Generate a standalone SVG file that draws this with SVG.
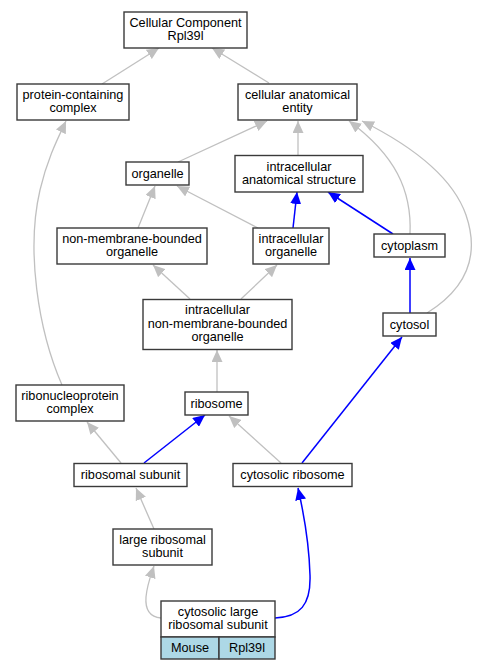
<svg xmlns="http://www.w3.org/2000/svg" width="478" height="669" viewBox="0 0 478 669">
<defs>
<marker id="ag" markerUnits="userSpaceOnUse" markerWidth="12" markerHeight="11" viewBox="0 0 12 11" refX="12" refY="5.5" orient="auto"><path d="M0,0 L12,5.5 L0,11 z" fill="#c0c0c0"/></marker>
<marker id="ab" markerUnits="userSpaceOnUse" markerWidth="12" markerHeight="11" viewBox="0 0 12 11" refX="12" refY="5.5" orient="auto"><path d="M0,0 L12,5.5 L0,11 z" fill="#0000ff"/></marker>
</defs>
<style>
.n rect{fill:#fff;stroke:#3a3a3a;stroke-width:1.4}
text{font-family:"Liberation Sans",Arial,sans-serif;font-size:12.7px;fill:#000;text-anchor:middle}
.g{fill:none;stroke:#c0c0c0;stroke-width:1.3;marker-end:url(#ag)}
.b{fill:none;stroke:#0000ff;stroke-width:1.5;marker-end:url(#ab)}
</style>
<rect width="478" height="669" fill="#fff"/>
<g id="edges">
<path class="g" d="M102,84 L159,48"/>
<path class="g" d="M269,83 L212,48"/>
<path class="g" d="M178,162 L267,121"/>
<path class="g" d="M298,155 L298,121"/>
<path class="g" d="M410,234 C412,190 395,155 349,121"/>
<path class="g" d="M427,313 C472,285 478,250 466,215 C452,175 410,145 362,121"/>
<path class="b" d="M293,228 L297,192"/>
<path class="b" d="M393,234 L328,192"/>
<path class="g" d="M138,228 L155,186"/>
<path class="g" d="M258,228 L177,186"/>
<path class="g" d="M190,299 L153,265"/>
<path class="g" d="M241,299 L277,265"/>
<path class="b" d="M410,313 L410,258"/>
<path class="g" d="M217,392 L217,350"/>
<path class="g" d="M62,385 C38,330 26,250 40,190 C47,160 57,140 66,121"/>
<path class="g" d="M121,463 L87,422"/>
<path class="b" d="M144,463 L205,415"/>
<path class="g" d="M281,463 L229,416"/>
<path class="b" d="M302,463 L402,337"/>
<path class="g" d="M154,529 L136,488"/>
<path class="g" d="M161,618 C150,617 145,610 146,597 C147,585 151,575 154,566"/>
<path class="b" d="M275,618 C300,617 311,605 310,575 C309,540 303,510 298,488"/>
</g>
<g id="n1" class="n"><rect x="124" y="12" width="123" height="36"/><text x="185.5" y="27">Cellular Component</text><text x="185.5" y="40">Rpl39l</text></g>
<g id="n2" class="n"><rect x="17" y="84" width="112" height="36"/><text x="73" y="99">protein-containing</text><text x="73" y="112">complex</text></g>
<g id="n3" class="n"><rect x="238" y="84" width="119" height="36"/><text x="297.5" y="99">cellular anatomical</text><text x="297.5" y="112">entity</text></g>
<g id="n4" class="n"><rect x="126" y="162" width="63" height="23"/><text x="157.5" y="177.5">organelle</text></g>
<g id="n5" class="n"><rect x="235" y="155.5" width="128" height="36.5"/><text x="299" y="170.5">intracellular</text><text x="299" y="183.5">anatomical structure</text></g>
<g id="n6" class="n"><rect x="57" y="228" width="150" height="36"/><text x="132" y="243">non-membrane-bounded</text><text x="132" y="256">organelle</text></g>
<g id="n7" class="n"><rect x="253" y="228" width="76" height="36"/><text x="291" y="243">intracellular</text><text x="291" y="256">organelle</text></g>
<g id="n8" class="n"><rect x="374" y="234" width="71" height="23"/><text x="409.5" y="249.5">cytoplasm</text></g>
<g id="n9" class="n"><rect x="143" y="299.5" width="149" height="50"/><text x="217.5" y="314">intracellular</text><text x="217.5" y="327.5">non-membrane-bounded</text><text x="217.5" y="341">organelle</text></g>
<g id="n10" class="n"><rect x="383" y="313" width="53" height="23"/><text x="409.5" y="328.5">cytosol</text></g>
<g id="n11" class="n"><rect x="16" y="385" width="108" height="36"/><text x="70" y="400">ribonucleoprotein</text><text x="70" y="413">complex</text></g>
<g id="n12" class="n"><rect x="185" y="392" width="63" height="23"/><text x="216.5" y="407.5">ribosome</text></g>
<g id="n13" class="n"><rect x="74" y="463.5" width="113" height="23"/><text x="130.5" y="479">ribosomal subunit</text></g>
<g id="n14" class="n"><rect x="233" y="463.5" width="119" height="23"/><text x="292.5" y="479">cytosolic ribosome</text></g>
<g id="n15" class="n"><rect x="113" y="529" width="99" height="36"/><text x="162.5" y="544">large ribosomal</text><text x="162.5" y="557">subunit</text></g>
<g id="n16" class="n"><rect x="161" y="601" width="114" height="36"/><rect x="161" y="637" width="58" height="22" style="fill:#add8e6"/><rect x="219" y="637" width="56" height="22" style="fill:#add8e6"/><text x="218" y="616">cytosolic large</text><text x="218" y="629">ribosomal subunit</text><text x="190" y="652">Mouse</text><text x="247" y="652">Rpl39l</text></g>
</svg>
